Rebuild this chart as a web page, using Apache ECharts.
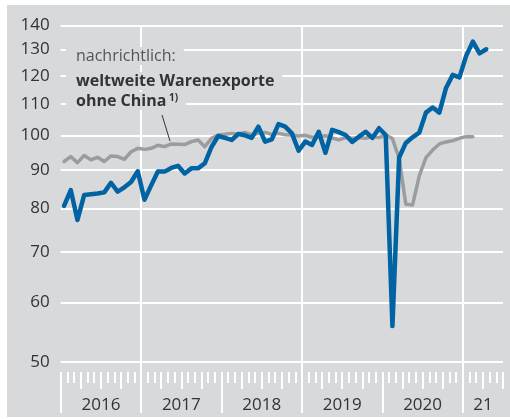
<!DOCTYPE html>
<html>
<head>
<meta charset="utf-8">
<script src="https://cdn.jsdelivr.net/npm/echarts@6/dist/echarts.min.js"></script>
<style>
  html, body { margin: 0; padding: 0; background: #fff; }
  #chart { position: absolute; left: 7px; top: 5px; width: 503px; height: 412px; }
</style>
</head>
<body>
<div id="chart"></div>
<script>
// Monatswerte ab Jan 2016 (Index 0), gezeichnet jeweils zur Monatsmitte
const chinaExporte = [
  80.6, 84.6, 77.2, 83.3, 83.5, 83.7, 84.0, 86.5, 84.2, 85.3, 86.7, 89.6, // 2016
  82.1, 85.8, 89.5, 89.5, 90.5, 91.1, 89.0, 90.4, 90.4, 91.8, 96.5, 99.8, // 2017
  99.2, 98.6, 100.4, 100.0, 99.2, 102.7, 98.1, 98.8, 103.5, 102.7, 100.6, 95.4, // 2018
  98.1, 97.1, 101.1, 94.8, 101.7, 101.0, 100.1, 98.0, 99.6, 101.1, 99.2, 102.2, // 2019
  100.1, 55.8, 93.4, 97.7, 99.4, 100.8, 107.2, 108.9, 107.2, 115.6, 120.3, 119.4, // 2020
  127.5, 133.2, 128.5, 130.1 // 2021
];
const weltOhneChina = [
  92.3, 93.7, 92.0, 94.0, 92.8, 93.5, 92.3, 93.9, 93.7, 92.9, 95.1, 96.1,
  95.8, 96.1, 97.0, 96.6, 97.4, 97.3, 97.2, 98.1, 98.6, 96.6, 99.1, 100.1,
  100.3, 100.6, 100.4, 100.9, 100.2, 100.6, 100.9, 100.3, 100.6, 100.2, 100.1, 99.8,
  100.0, 99.4, 99.6, 99.9, 99.2, 98.6, 99.3, 99.1, 99.3, 99.1, 99.6, 99.3,
  100.1, 99.0, 93.2, 81.0, 80.8, 88.3, 93.4, 95.6, 97.4, 98.0, 98.4, 99.1,
  99.6, 99.6
];
const yTicks = [50, 60, 70, 80, 90, 100, 110, 120, 130, 140];
const yearLabelPos = [6, 18, 30, 42, 54, 63];
const yearLabels = ['2016', '2017', '2018', '2019', '2020', '21'];
const monthCount = 66; // Jan 2016 bis Jun 2021

const BG = '#d8d9db';
const TXT = '#333333';
const FONT = '"Open Sans", "Noto Sans", sans-serif';

const toPoints = (arr) => arr.map((v, i) => [i + 0.5, v]);

// gemeinsame Einstellungen fuer die Zeitachsen
const baseX = {
  type: 'value',
  gridIndex: 0,
  position: 'bottom',
  min: 0,
  max: monthCount,
  axisLine: { show: false, onZero: false },
  axisLabel: { show: false },
  splitLine: { show: false },
};

const myChart = echarts.init(document.getElementById('chart'));

const option = {
  backgroundColor: BG,
  animation: false,
  grid: { left: 53.7, right: 7, top: 20.3, bottom: 55 },
  xAxis: [
    {
      // Jahreslinien 2017/2019/2021 und Beschriftung
      ...baseX,
      axisTick: {
        show: true,
        customValues: [12, 36, 60],
        length: 51,
        lineStyle: { color: '#fff', width: 2 },
      },
      splitLine: { show: true, lineStyle: { color: '#fff', width: 2 } },
      axisLabel: {
        show: true,
        customValues: yearLabelPos,
        margin: 35,
        color: TXT,
        fontSize: 17,
        fontFamily: FONT,
        formatter: (v) => yearLabels[yearLabelPos.indexOf(v)] || '',
      },
    },
    {
      // Jahresstriche 2016/2018/2020
      ...baseX,
      offset: 10,
      axisTick: {
        show: true,
        customValues: [0, 24, 48],
        length: 41,
        lineStyle: { color: '#fff', width: 2 },
      },
    },
    {
      // Quartale
      ...baseX,
      offset: 10,
      interval: 3,
      axisTick: { show: true, length: 17, lineStyle: { color: '#fff', width: 2 } },
    },
    {
      // Monate
      ...baseX,
      offset: 10,
      interval: 1,
      axisTick: { show: true, length: 11, lineStyle: { color: '#fff', width: 2 } },
    },
  ],
  yAxis: {
    type: 'log',
    logBase: 10,
    min: 50,
    max: 140,
    axisLine: { show: false },
    axisTick: { show: false, customValues: yTicks },
    axisLabel: {
      customValues: yTicks,
      margin: 11,
      color: TXT,
      fontSize: 17,
      fontFamily: FONT,
    },
    splitLine: { show: true, lineStyle: { color: '#fff', width: 2 } },
  },
  series: [
    {
      name: 'weltweite Warenexporte ohne China',
      type: 'line',
      xAxisIndex: 0,
      yAxisIndex: 0,
      showSymbol: false,
      lineStyle: { color: '#9b9c9e', width: 3.5, cap: 'round', join: 'round' },
      data: toPoints(weltOhneChina),
      z: 3,
    },
    {
      name: 'China',
      type: 'line',
      xAxisIndex: 0,
      yAxisIndex: 0,
      showSymbol: false,
      lineStyle: { color: '#0063a3', width: 4.5, cap: 'round', join: 'round' },
      data: toPoints(chinaExporte),
      z: 4,
    },
  ],
  graphic: [
    {
      type: 'text',
      x: 59,
      y: 51,
      z: 10,
      style: {
        text: 'nachrichtlich:',
        fill: '#555',
        font: '16px ' + FONT,
        verticalAlign: 'middle',
        backgroundColor: BG,
        padding: [1, 8, 1, 10],
      },
    },
    {
      type: 'text',
      x: 59,
      y: 76,
      z: 10,
      style: {
        text: 'weltweite Warenexporte',
        fill: TXT,
        font: 'bold 16px ' + FONT,
        verticalAlign: 'middle',
        backgroundColor: BG,
        padding: [1, 8, 1, 10],
      },
    },
    {
      type: 'text',
      x: 59,
      y: 96,
      z: 10,
      style: {
        text: '{b|ohne China}{s| 1)}',
        verticalAlign: 'middle',
        backgroundColor: BG,
        padding: [1, 8, 1, 10],
        rich: {
          b: { fill: TXT, fontSize: 16, fontWeight: 'bold', fontFamily: FONT },
          s: { fill: TXT, fontSize: 10, fontWeight: 'bold', fontFamily: FONT, verticalAlign: 'top' },
        },
      },
    },
    {
      type: 'line',
      z: 10,
      shape: { x1: 155, y1: 110, x2: 163, y2: 136 },
      style: { stroke: '#333', lineWidth: 1 },
    },
  ],
};

myChart.setOption(option);
</script>
</body>
</html>
